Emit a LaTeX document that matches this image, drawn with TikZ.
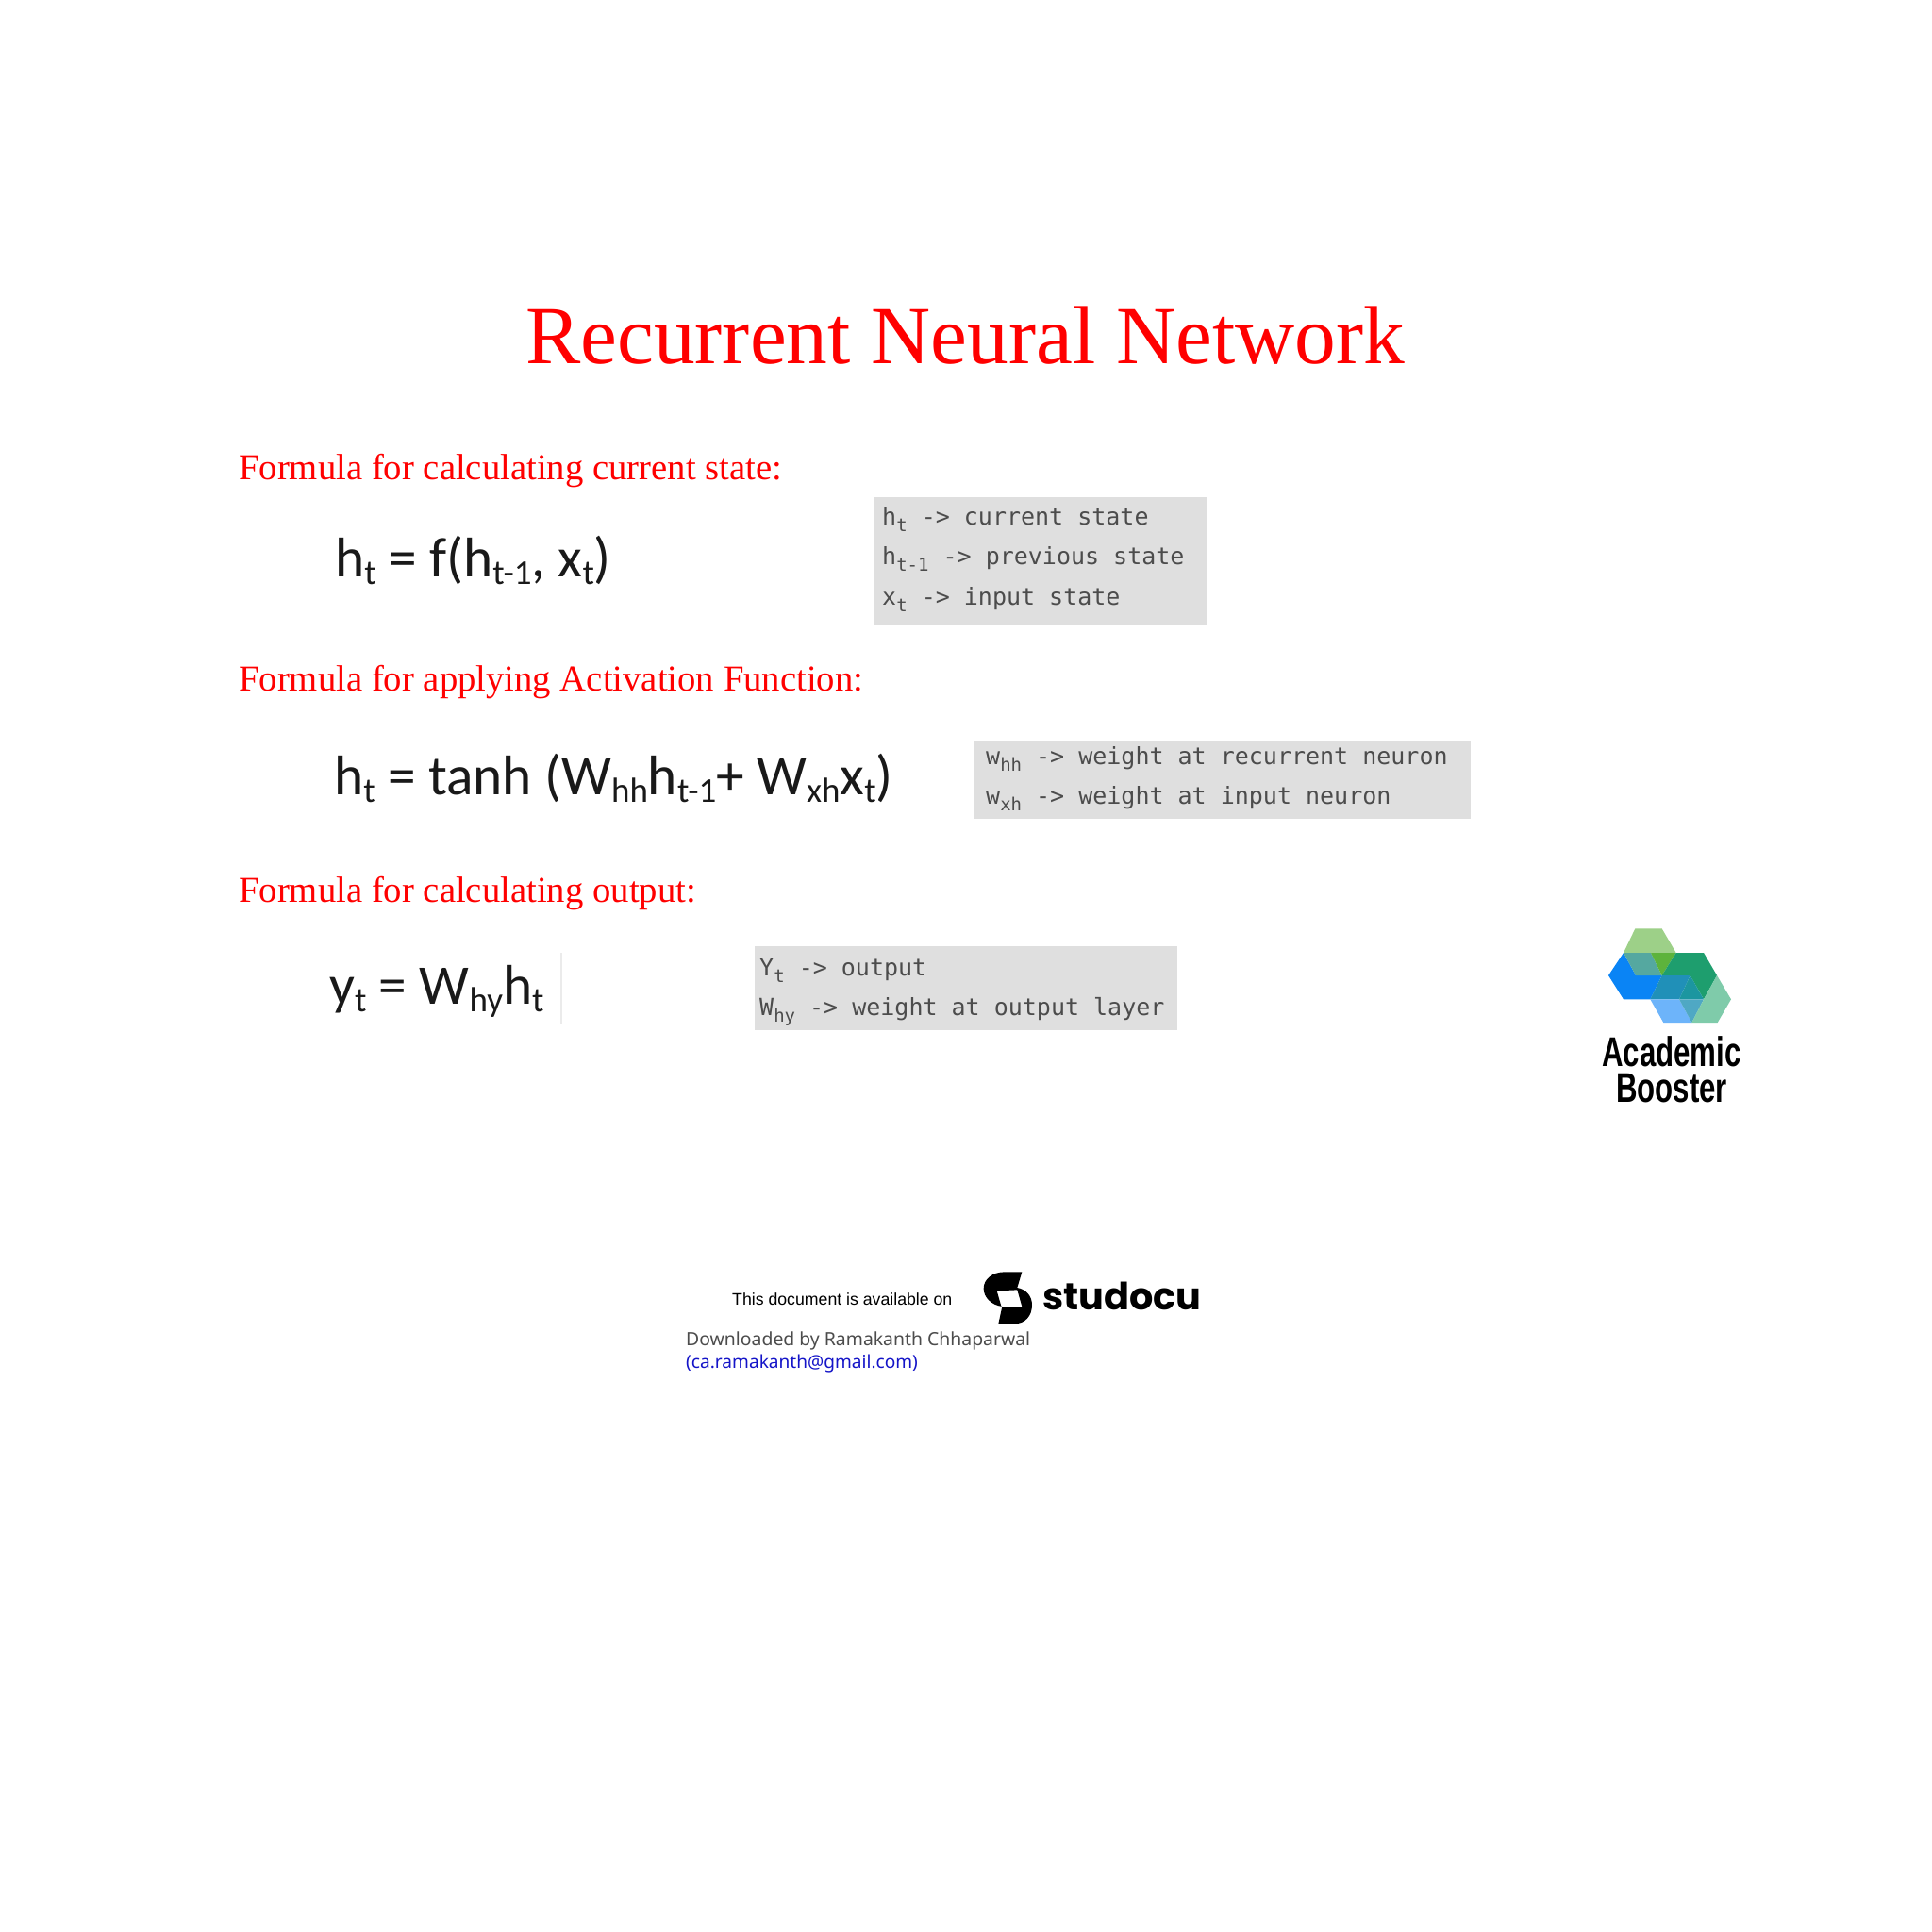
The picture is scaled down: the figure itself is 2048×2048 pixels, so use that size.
\documentclass[tikz,border=0pt]{standalone}
\usepackage{fontspec}
\setmainfont{Liberation Serif}
\newfontfamily\formulafont{Carlito}
\newfontfamily\legendfont{DejaVu Sans Mono}
\newfontfamily\footfont{Noto Sans}
\newfontfamily\availfont{Liberation Sans}
\newfontfamily\brandfont{Poppins}
\newfontfamily\logofont[FakeStretch=0.71]{Liberation Sans}
\definecolor{legendbg}{HTML}{DFDFDF}
\definecolor{legendtext}{HTML}{4C4C4C}
\definecolor{mailblue}{HTML}{1414C8}
\definecolor{hexa}{HTML}{9DD088}
\definecolor{hexb}{HTML}{0A84F5}
\definecolor{hexc}{HTML}{55A8A0}
\definecolor{hexd}{HTML}{5DB33C}
\definecolor{hexe}{HTML}{1E9E6E}
\definecolor{hexf}{HTML}{2090B8}
\definecolor{hexg}{HTML}{1C96A0}
\definecolor{hexh}{HTML}{6DB4FA}
\definecolor{hexi}{HTML}{4FA8C4}
\definecolor{hexj}{HTML}{7FCBAA}
\newcommand\fsub[1]{\raisebox{-0.14em}{\fontsize{37}{37}\selectfont #1}}
\newcommand\lsub[1]{\raisebox{-0.3em}{\fontsize{19}{19}\selectfont #1}}
\tikzset{
    heading/.style = {
        anchor=base west,
        inner sep=0pt,
        red,
        font=\fontsize{38.7}{38.7}\selectfont
    },
    formula/.style = {
        anchor=base west,
        inner sep=0pt,
        black!90,
        font=\formulafont\fontsize{59.3}{59.3}\selectfont
    },
    legendbox/.style = {
        fill=legendbg
    },
    legend/.style = {
        anchor=base west,
        inner sep=0pt,
        legendtext,
        font=\legendfont\fontsize{25}{25}\selectfont
    },
    logotext/.style = {
        anchor=base,
        inner sep=0pt,
        font=\logofont\bfseries\fontsize{44}{44}\selectfont
    },
    foot/.style = {
        anchor=base west,
        inner sep=0pt,
        font=\footfont\fontsize{19.4}{19.4}\selectfont
    }
}

\begin{document}
\begin{tikzpicture}[x=1pt,y=-1pt]
    \useasboundingbox (0,0) rectangle (2048,2048);
    \fill[white] (0,0) rectangle (2048,2048);

    %Title
    \node[anchor=base west,inner sep=0pt,red,font=\fontsize{87.4}{87.4}\selectfont] (title) at (557,385) {Recurrent Neural Network};

    %Current state
    \node[heading] (headA) at (253,508) {Formula for calculating current state:};
    \node[formula] (formA) at (355,611) {h\fsub{t} = f(h\fsub{t-1}, x\fsub{t})};
    \fill[legendbox] (927,527) rectangle (1280,662);
    \node[legend] (legAa) at (935,556) {h\lsub{t} -> current state};
    \node[legend] (legAb) at (935,598) {h\lsub{t-1} -> previous state};
    \node[legend] (legAc) at (935,641) {x\lsub{t} -> input state};

    %Activation function
    \node[heading] (headB) at (253,732) {Formula for applying Activation Function:};
    \node[formula] (formB) at (354,842) {h\fsub{t} = tanh (W\fsub{hh}h\fsub{t-1}+ W\fsub{xh}x\fsub{t})};
    \fill[legendbox] (1032,785) rectangle (1559,868);
    \node[legend] (legBa) at (1045,810) {w\lsub{hh} -> weight at recurrent neuron};
    \node[legend] (legBb) at (1045,852) {w\lsub{xh} -> weight at input neuron};

    %Output
    \node[heading] (headC) at (253,956) {Formula for calculating output:};
    \node[formula] (formC) at (349,1064) {y\fsub{t} = W\fsub{hy}h\fsub{t}};
    \draw[black!8,line width=1.5] (595,1010) -- (595,1085);
    \fill[legendbox] (800,1003) rectangle (1248,1092);
    \node[legend] (legCa) at (805,1034) {Y\lsub{t} -> output};
    \node[legend] (legCb) at (805,1076) {W\lsub{hy} -> weight at output layer};

    %Logo
    \begin{scope}[shift={(1660,960)},x=0.3333pt,y=-0.3333pt]
        \fill[hexa] (220,73) -- (305,73) -- (350,150) -- (183,150) -- cycle;
        \fill[hexb] (183,150) -- (135,222) -- (183,298) -- (268,298) -- (305,222) -- (222,222) -- cycle;
        \fill[hexc] (183,150) -- (270,150) -- (305,222) -- (222,222) -- cycle;
        \fill[hexd] (270,150) -- (350,150) -- (305,222) -- cycle;
        \fill[hexe] (350,150) -- (438,150) -- (480,222) -- (438,298) -- (395,222) -- (305,222) -- cycle;
        \fill[hexf] (305,222) -- (395,222) -- (360,298) -- (268,298) -- cycle;
        \fill[hexg] (395,222) -- (438,298) -- (360,298) -- cycle;
        \fill[hexh] (268,298) -- (360,298) -- (400,372) -- (310,372) -- cycle;
        \fill[hexi] (360,298) -- (438,298) -- (400,372) -- cycle;
        \fill[hexj] (480,222) -- (525,298) -- (482,372) -- (400,372) -- (438,298) -- cycle;
    \end{scope}
    \node[logotext] (logoA) at (1772,1130) {Academic};
    \node[logotext] (logoB) at (1772,1168) {Booster};

    %Footer
    \node[anchor=base west,inner sep=0pt,font=\availfont\fontsize{17.7}{17.7}\selectfont] (avail) at (776,1383) {This document is available on};
    \begin{scope}[shift={(1030,1340)},x=0.3333pt,y=-0.3333pt]
        \fill[even odd rule,black] (105,25) -- (160,25) -- (145,75)
            .. controls (172,80) and (192,100) .. (192,130)
            .. controls (192,165) and (170,190) .. (135,190)
            -- (85,190) -- (97,135)
            .. controls (62,130) and (38,105) .. (38,78)
            .. controls (38,48) and (65,25) .. (105,25) -- cycle
            (80,85) -- (145,82) -- (160,135) -- (95,137) -- cycle;
    \end{scope}
    \node[anchor=base west,inner sep=0pt,font=\brandfont\bfseries\fontsize{39.8}{39.8}\selectfont] (brand) at (1105,1388) {studocu};
    \node[foot,black!70] (down) at (727,1426) {Downloaded by Ramakanth Chhaparwal};
    \node[foot,mailblue,font=\footfont\fontsize{19.1}{19.1}\selectfont] (mail) at (727,1450) {\underline{(ca.ramakanth@gmail.com)}};
\end{tikzpicture}
\end{document}
